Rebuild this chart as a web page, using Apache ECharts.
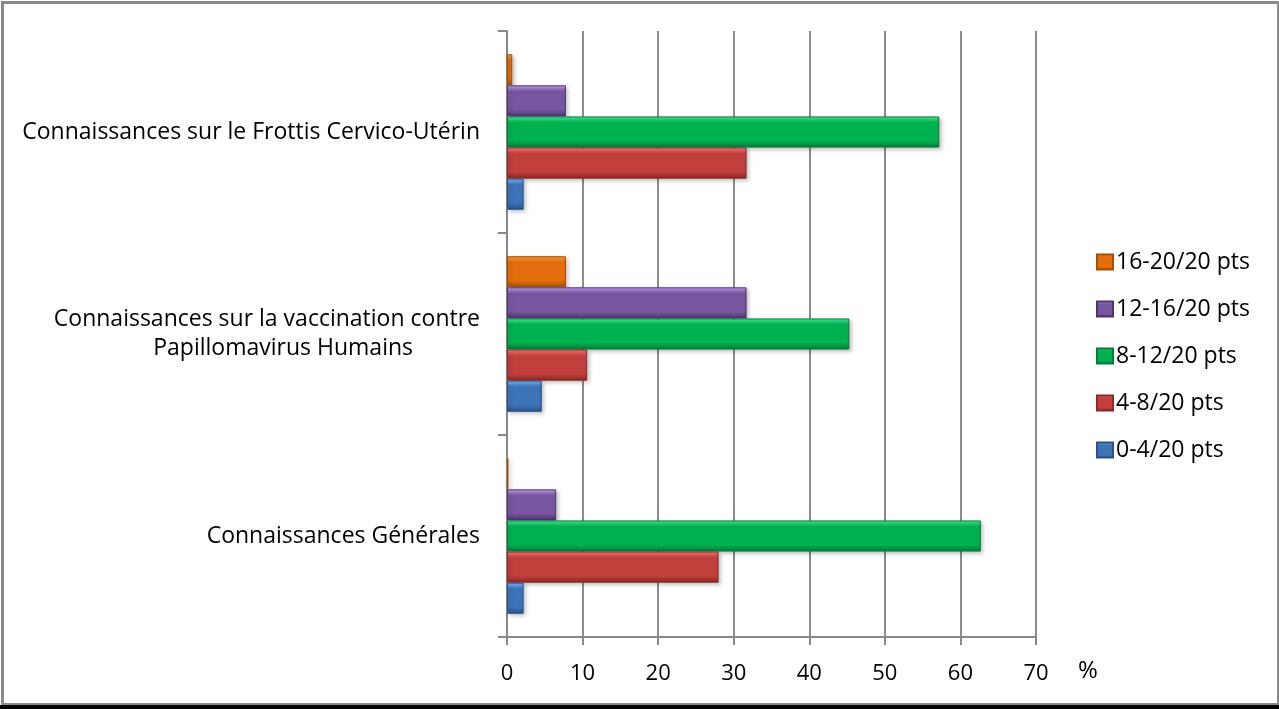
<!DOCTYPE html>
<html>
<head>
<meta charset="utf-8">
<script src="https://cdn.jsdelivr.net/npm/echarts@6/dist/echarts.min.js"></script>
<style>
  html, body { margin: 0; padding: 0; background: #fff; }
  #main { width: 1279px; height: 709px; }
</style>
</head>
<body>
<div id="main"></div>
<script>
// catégories, de bas en haut
const categories = [
  'Connaissances Générales',
  'Connaissances sur la vaccination contre\nPapillomavirus Humains',
  'Connaissances sur le Frottis Cervico-Utérin'
];
const seriesNames = ['0-4/20 pts', '4-8/20 pts', '8-12/20 pts', '12-16/20 pts', '16-20/20 pts'];
const pts0_4 = [2.2, 4.6, 2.2];
const pts4_8 = [28.0, 10.6, 31.7];
const pts8_12 = [62.7, 45.3, 57.2];
const pts12_16 = [6.5, 31.7, 7.8];
const pts16_20 = [0.2, 7.8, 0.7];
const xTicks = [0, 10, 20, 30, 40, 50, 60, 70];

// clair, base, foncé pour l'effet biseauté
const palette = [
  ['#7ab8ff', '#3d74b8', '#2a5288'],
  ['#ff7b78', '#c23f3c', '#8a2a28'],
  ['#45f29a', '#00b14f', '#067a3a'],
  ['#c9a2f2', '#77569f', '#4d3570'],
  ['#ffa040', '#e56e0c', '#a34d06']
];
const values = [pts0_4, pts4_8, pts8_12, pts12_16, pts16_20];

function bevel(c) {
  return {
    type: 'linear', x: 0, y: 0, x2: 0, y2: 1,
    colorStops: [
      { offset: 0, color: c[0] },
      { offset: 0.2, color: c[1] },
      { offset: 0.78, color: c[1] },
      { offset: 1, color: c[2] }
    ]
  };
}

const FONT = '"Open Sans", "Noto Sans", sans-serif';

// la première série est dessinée en haut de la bande : on inverse l'ordre
const order = [4, 3, 2, 1, 0];

const chart = echarts.init(document.getElementById('main'));
chart.setOption({
  animation: false,
  textStyle: { fontFamily: FONT },
  grid: { left: 507, right: 243, top: 31, bottom: 72 },
  legend: {
    orient: 'vertical',
    left: 1091,
    top: 245,
    itemWidth: 16,
    itemHeight: 15,
    itemGap: 23,
    icon: 'rect',
    data: seriesNames.slice().reverse(),
    textStyle: { fontSize: 23, color: '#000', lineHeight: 24, padding: [0, 0, 0, -2] }
  },
  xAxis: {
    type: 'value',
    min: 0,
    max: 70,
    interval: 10,
    name: '%',
    nameLocation: 'end',
    nameGap: 42,
    nameTextStyle: { fontSize: 24, color: '#000', verticalAlign: 'top', padding: [22, 0, 0, 0] },
    axisLine: { show: true, lineStyle: { color: '#888', width: 2 } },
    axisTick: { show: true, length: 8, lineStyle: { color: '#888', width: 2 } },
    axisLabel: { fontSize: 22, color: '#000', margin: 26,
      formatter: v => xTicks.includes(v) ? String(v) : '' },
    splitLine: { show: true, lineStyle: { color: '#8c8c8c', width: 2 } }
  },
  yAxis: {
    type: 'category',
    data: categories,
    axisLine: { show: true, lineStyle: { color: '#888', width: 2 } },
    axisTick: { show: true, length: 9, lineStyle: { color: '#888', width: 2 } },
    axisLabel: {
      fontSize: 23, color: '#000', margin: 27, lineHeight: 29,
      formatter: v => {
        const parts = v.split('\n');
        if (parts.length === 1) return '{a|' + v + '}';
        return '{a|' + parts[0] + '}\n{b|' + parts[1] + '}';
      },
      rich: {
        a: { fontSize: 23, color: '#000', lineHeight: 29, fontFamily: FONT },
        b: { fontSize: 23, color: '#000', lineHeight: 29, fontFamily: FONT, padding: [0, 67, 0, 0] }
      }
    }
  },
  graphic: [
    { type: 'rect', left: 0, top: 0, shape: { x: 1.5, y: 1.5, width: 1276, height: 702 },
      style: { fill: 'none', stroke: '#8a8a8a', lineWidth: 3 }, silent: true },
    { type: 'rect', shape: { x: 0, y: 705, width: 1279, height: 4 },
      style: { fill: '#000' }, silent: true }
  ],
  series: order.map(i => ({
    name: seriesNames[i],
    type: 'bar',
    data: values[i],
    barGap: '0%',
    barCategoryGap: '23%',
    itemStyle: {
      color: bevel(palette[i]),
      borderColor: palette[i][2],
      borderWidth: 1,
      shadowColor: 'rgba(0,0,0,0.25)',
      shadowBlur: 4,
      shadowOffsetX: 2,
      shadowOffsetY: 2
    }
  }))
});
</script>
</body>
</html>
